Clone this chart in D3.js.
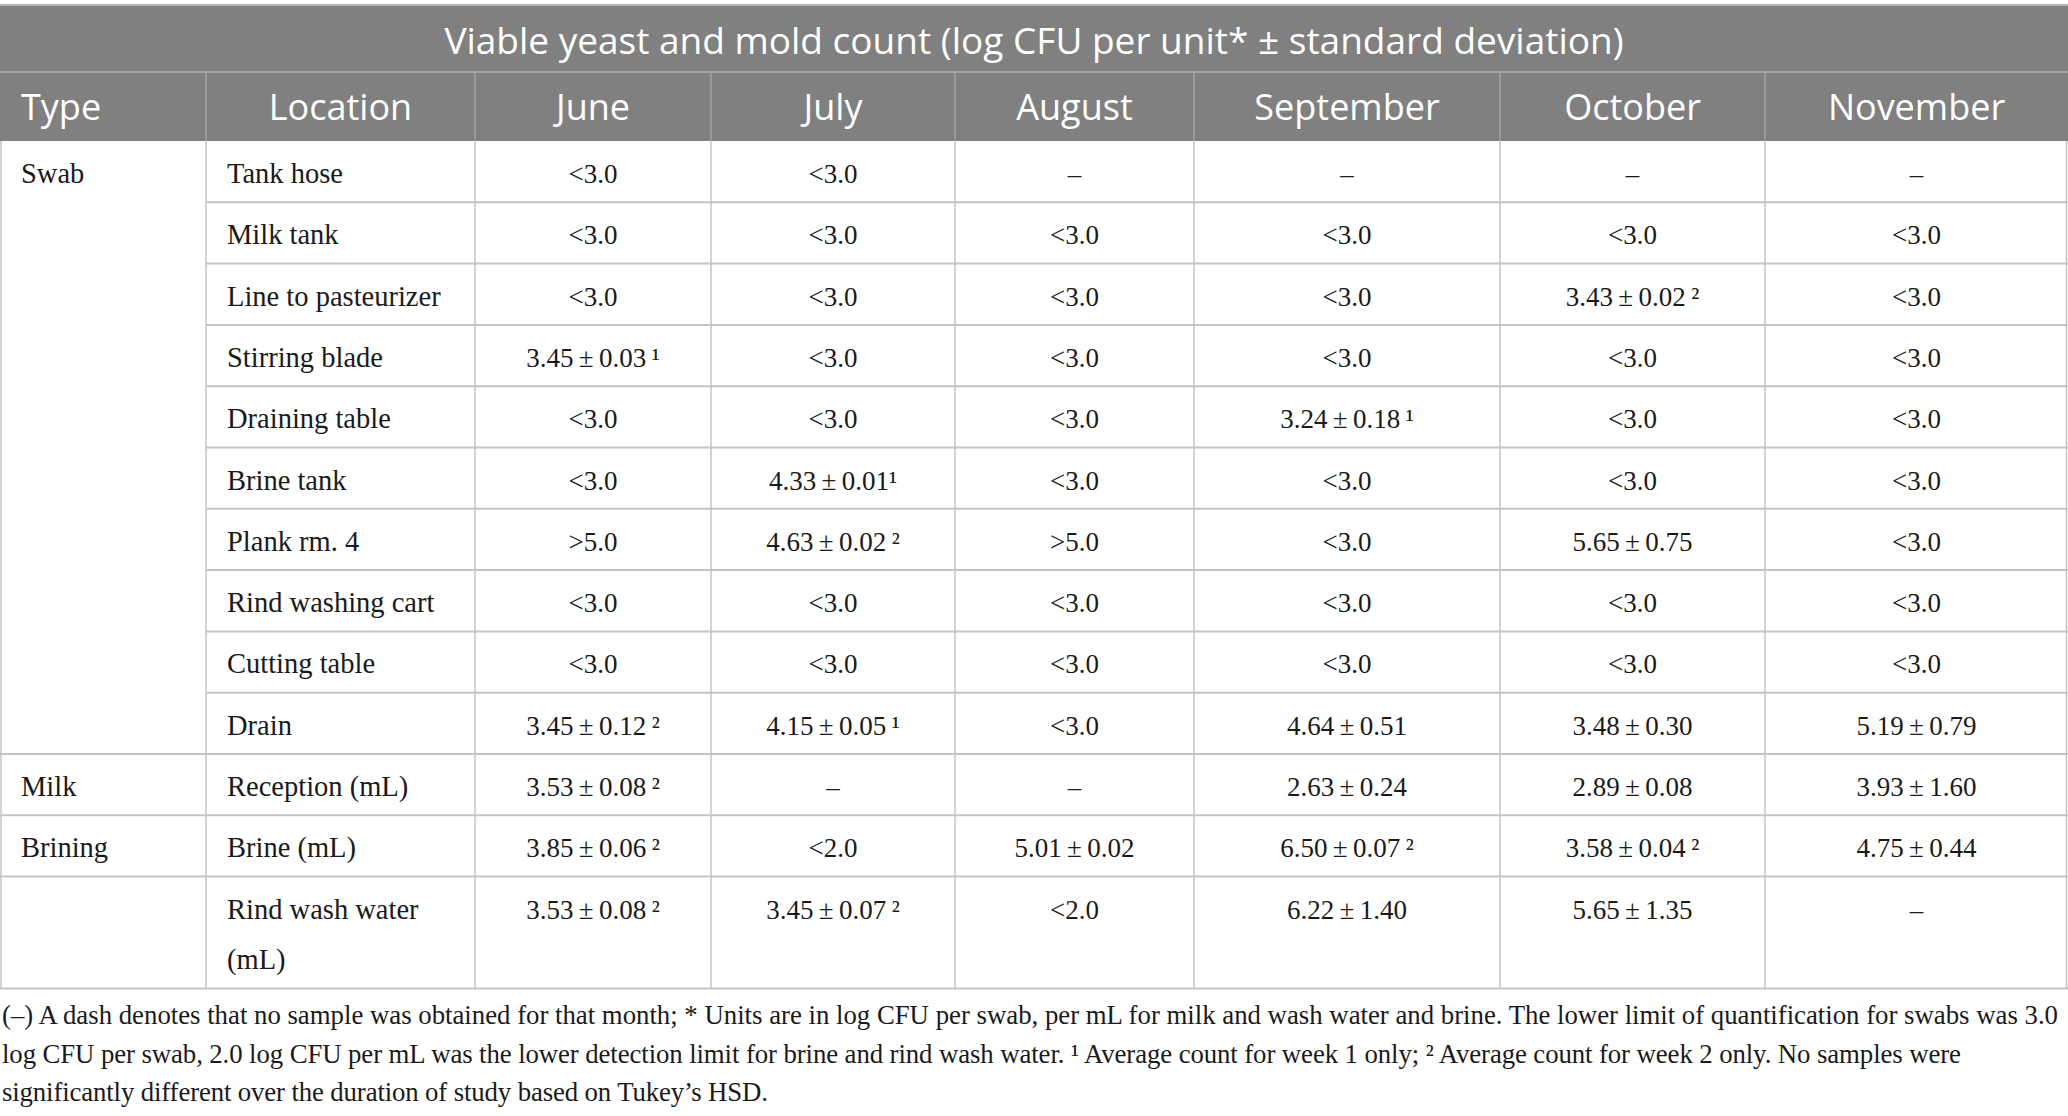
<!DOCTYPE html>
<html lang="en">
<head>
<meta charset="utf-8" />
<title>Viable yeast and mold count</title>
<script src="https://cdn.jsdelivr.net/npm/d3@7"></script>
<style>
    body { margin: 0; background: #fff; }
    .head text { font-family: "Open Sans", "Noto Sans", sans-serif; fill: #fff; font-size: 36px; }
    .head text.title { font-size: 37px; }
    .cell text { font-family: "Liberation Serif", "Times New Roman", serif; fill: #1a1a1a; font-size: 27px; }
    .cell text.lbl { font-size: 28.5px; }
    .note text { font-family: "Liberation Serif", "Times New Roman", serif; fill: #1a1a1a; font-size: 26.8px; }
</style>
</head>
<body>
<svg width="2068" height="1116"></svg>
<script>
    var title = "Viable yeast and mold count (log CFU per unit* \u00b1 standard deviation)";
    var headers = ["Type", "Location", "June", "July", "August", "September", "October", "November"];
    var types = ["Swab", "", "", "", "", "", "", "", "", "", "Milk", "Brining", ""];
    var locations = ["Tank hose", "Milk tank", "Line to pasteurizer", "Stirring blade", "Draining table",
        "Brine tank", "Plank rm. 4", "Rind washing cart", "Cutting table", "Drain",
        "Reception (mL)", "Brine (mL)", "Rind wash water (mL)"];
    // "\u00b9" / "\u00b2" = week 1 only / week 2 only
    var june = ["<3.0", "<3.0", "<3.0", "3.45\u00b10.03 \u00b9", "<3.0", "<3.0", ">5.0", "<3.0", "<3.0",
        "3.45\u00b10.12 \u00b2", "3.53\u00b10.08 \u00b2", "3.85\u00b10.06 \u00b2", "3.53\u00b10.08 \u00b2"];
    var july = ["<3.0", "<3.0", "<3.0", "<3.0", "<3.0", "4.33\u00b10.01\u00b9", "4.63\u00b10.02 \u00b2", "<3.0", "<3.0",
        "4.15\u00b10.05 \u00b9", "\u2013", "<2.0", "3.45\u00b10.07 \u00b2"];
    var august = ["\u2013", "<3.0", "<3.0", "<3.0", "<3.0", "<3.0", ">5.0", "<3.0", "<3.0",
        "<3.0", "\u2013", "5.01\u00b10.02", "<2.0"];
    var september = ["\u2013", "<3.0", "<3.0", "<3.0", "3.24\u00b10.18 \u00b9", "<3.0", "<3.0", "<3.0", "<3.0",
        "4.64\u00b10.51", "2.63\u00b10.24", "6.50\u00b10.07 \u00b2", "6.22\u00b11.40"];
    var october = ["\u2013", "<3.0", "3.43\u00b10.02 \u00b2", "<3.0", "<3.0", "<3.0", "5.65\u00b10.75", "<3.0", "<3.0",
        "3.48\u00b10.30", "2.89\u00b10.08", "3.58\u00b10.04 \u00b2", "5.65\u00b11.35"];
    var november = ["\u2013", "<3.0", "<3.0", "<3.0", "<3.0", "<3.0", "<3.0", "<3.0", "<3.0",
        "5.19\u00b10.79", "3.93\u00b11.60", "4.75\u00b10.44", "\u2013"];
    var months = [june, july, august, september, october, november];
    var footnote = [
        "(\u2013) A dash denotes that no sample was obtained for that month; * Units are in log CFU per swab, per mL for milk and wash water and brine. The lower limit of quantification for swabs was 3.0",
        "log CFU per swab, 2.0 log CFU per mL was the lower detection limit for brine and rind wash water. \u00b9 Average count for week 1 only; \u00b2 Average count for week 2 only. No samples were",
        "significantly different over the duration of study based on Tukey\u2019s HSD."
    ];

    // ---- layout ----
    var svg = d3.select("svg"),
        W = +svg.attr("width");
    var colEdges = [0, 206, 475, 711, 955, 1194, 1500, 1765, W];
    var titleTop = 5, headTop = 72, bodyTop = 141, rowH = 61.3, lineH = 50.5, pad = 21;
    var noteWidths = [2056, 1959, 766]; // line lengths as set in the source

    var colX = d3.scaleOrdinal().domain(headers).range(colEdges.slice(0, -1));
    var colW = d3.scaleOrdinal().domain(headers).range(d3.pairs(colEdges, function (a, b) { return b - a; }));

    var grid = "#c4c4c4", headLine = "#a3a3a3";

    // header background
    var head = svg.append("g").attr("class", "head");
    head.append("rect").attr("x", 0).attr("y", titleTop).attr("width", W).attr("height", bodyTop - titleTop)
        .attr("fill", "#808080");
    head.append("line").attr("x1", 0).attr("x2", W).attr("y1", titleTop).attr("y2", titleTop)
        .attr("stroke", "#b4b4b4").attr("stroke-width", 2);
    head.append("line").attr("x1", 0).attr("x2", W).attr("y1", headTop).attr("y2", headTop)
        .attr("stroke", headLine).attr("stroke-width", 2);
    head.append("text").attr("class", "title")
        .attr("x", W / 2).attr("y", titleTop + 49).attr("text-anchor", "middle").text(title);

    head.selectAll(".hsep").data(headers.slice(1)).enter().append("line")
        .attr("x1", function (d) { return colX(d); }).attr("x2", function (d) { return colX(d); })
        .attr("y1", headTop).attr("y2", bodyTop)
        .attr("stroke", headLine).attr("stroke-width", 1.5);

    head.selectAll(".htxt").data(headers).enter().append("text")
        .attr("x", function (d, i) { return i === 0 ? pad : colX(d) + colW(d) / 2; })
        .attr("y", headTop + 48)
        .attr("text-anchor", function (d, i) { return i === 0 ? "start" : "middle"; })
        .text(function (d) { return d; });

    // body: location labels first, wrapped to the column, to know row heights
    var body = svg.append("g").attr("class", "cell");
    var locLabels = body.selectAll(".loc").data(locations).enter().append("text")
        .attr("class", "lbl")
        .attr("x", colX("Location") + pad);

    var maxW = colW("Location") - 2 * pad;
    var lineCount = [];
    locLabels.each(function (d, i) {
        var el = d3.select(this), words = d.split(" "), line = [], n = 0;
        var tspan = el.append("tspan").attr("x", colX("Location") + pad).attr("dy", 0);
        words.forEach(function (w) {
            line.push(w);
            tspan.text(line.join(" "));
            if (tspan.node().getComputedTextLength() > maxW && line.length > 1) {
                line.pop();
                tspan.text(line.join(" "));
                line = [w];
                n++;
                tspan = el.append("tspan").attr("x", colX("Location") + pad).attr("dy", lineH).text(w);
            }
        });
        lineCount[i] = n + 1;
    });

    var heights = lineCount.map(function (n) { return rowH + (n - 1) * lineH; });
    var tops = [bodyTop].concat(Array.from(d3.cumsum(heights), function (h) { return bodyTop + h; }));
    var bottom = tops[tops.length - 1];

    locLabels.attr("y", function (d, i) { return tops[i] + 42; });

    body.selectAll(".type").data(types).enter().append("text")
        .attr("class", "lbl")
        .attr("x", pad).attr("y", function (d, i) { return tops[i] + 42; })
        .text(function (d) { return d; });

    function fmt(v) {
        return v.replace("\u00b1", "\u2009\u00b1\u2009").replace(" \u00b9", "\u2009\u00b9").replace(" \u00b2", "\u2009\u00b2");
    }

    months.forEach(function (vals, m) {
        var key = headers[m + 2];
        body.selectAll(".m" + m).data(vals).enter().append("text")
            .attr("x", colX(key) + colW(key) / 2)
            .attr("y", function (d, i) { return tops[i] + 42; })
            .attr("text-anchor", "middle")
            .text(function (d) { return fmt(d); });
    });

    // grid lines
    var lines = svg.append("g").attr("stroke", grid);
    tops.slice(1).forEach(function (y, i) {
        var full = i >= 9 || types[i + 1] !== "";
        lines.append("line").attr("x1", full ? 0 : colX("Location")).attr("x2", W)
            .attr("y1", y).attr("y2", y).attr("stroke-width", 2);
    });
    [1].concat(colEdges.slice(1, -1), [W - 1.5]).forEach(function (x) {
        lines.append("line").attr("x1", x).attr("x2", x).attr("y1", bodyTop).attr("y2", bottom)
            .attr("stroke-width", 1.5);
    });

    // footnote
    var note = svg.append("g").attr("class", "note");
    note.selectAll("text").data(footnote).enter().append("text")
        .attr("x", 2)
        .attr("y", function (d, i) { return bottom + 36 + i * 38.5; })
        .attr("textLength", function (d, i) { return noteWidths[i]; })
        .attr("lengthAdjust", "spacing")
        .text(function (d) { return d; });
</script>
</body>
</html>
